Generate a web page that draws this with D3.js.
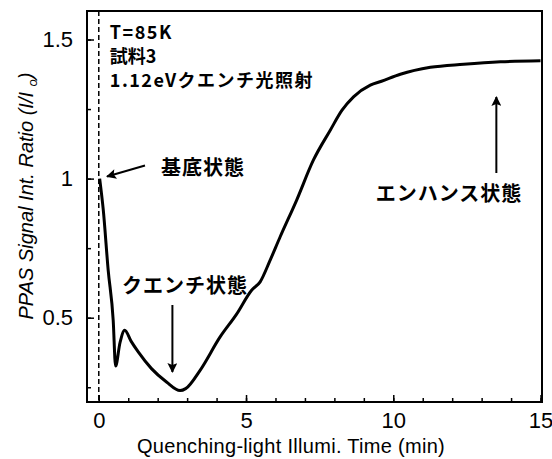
<!DOCTYPE html>
<html>
<head>
<meta charset="utf-8">
<script src="https://cdn.jsdelivr.net/npm/d3@7"></script>
<style>
  body { margin: 0; background: #fff; }
  svg text { fill: #000; }
</style>
</head>
<body>
<div class="chart"></div>
<script>
// data
var timeMin = [0.03, 0.15, 0.32, 0.49, 0.57, 0.72, 0.88, 1.1, 1.34, 1.79, 2.3, 2.76, 2.95,
  3.44, 4.12, 4.68, 5.19, 5.48, 5.82, 6.16, 6.72, 7.29, 7.86, 8.26, 8.65, 9.22, 9.6,
  10.24, 11.26, 12.39, 13.64, 15.0];
var ratio = [1.0, 0.89, 0.67, 0.49, 0.326, 0.41, 0.455, 0.415, 0.377, 0.317, 0.269, 0.238, 0.245,
  0.311, 0.431, 0.513, 0.599, 0.629, 0.707, 0.791, 0.923, 1.067, 1.174, 1.246, 1.294, 1.336, 1.35,
  1.375, 1.40, 1.411, 1.42, 1.424];
var xTicks = [0, 5, 10, 15];
var yTicks = [0.5, 1, 1.5];
var infoLines = ["T=85K", "試料3", "1.12eVクエンチ光照射"];

var svgWidth = 552;
var svgHeight = 459;
var margin = {top: 11, right: 10, bottom: 57, left: 87};
var width = svgWidth - margin.left - margin.right;
var height = svgHeight - margin.top - margin.bottom;

var svg = d3.select(".chart")
  .append("svg")
  .attr("width", svgWidth)
  .attr("height", svgHeight);

var chartGroup = svg.append("g")
  .attr("transform", `translate(${margin.left}, ${margin.top})`);

var x = d3.scaleLinear().domain([-0.4, 15.05]).range([0, width]);
var y = d3.scaleLinear().domain([0.197, 1.6025]).range([height, 0]);

var tickFont = "'Liberation Sans', Arial, sans-serif";
var jpFont = "'Noto Sans CJK JP', sans-serif";

// frame
chartGroup.append("rect")
  .attr("width", width).attr("height", height)
  .attr("fill", "none").attr("stroke", "#000").attr("stroke-width", 2);

// minor ticks
chartGroup.append("g")
  .attr("transform", `translate(0,${height})`)
  .call(d3.axisBottom(x).tickValues(d3.range(0, 16, 1)).tickSize(-4).tickFormat(""))
  .call(g => g.select(".domain").remove());
chartGroup.append("g")
  .call(d3.axisLeft(y).tickValues([0.25, 0.5, 0.75, 1, 1.25, 1.5]).tickSize(-4).tickFormat(""))
  .call(g => g.select(".domain").remove());

// major ticks with labels
var bottomAxis = chartGroup.append("g")
  .attr("transform", `translate(0,${height})`)
  .call(d3.axisBottom(x).tickValues(xTicks).tickSize(-7).tickPadding(10).tickFormat(d3.format("d")));
bottomAxis.select(".domain").remove();
bottomAxis.selectAll("text").attr("font-size", 22).attr("font-family", tickFont);

var leftAxis = chartGroup.append("g")
  .call(d3.axisLeft(y).tickValues(yTicks).tickSize(-7).tickPadding(14).tickFormat(d => d === 1 ? "1" : d3.format(".1f")(d)));
leftAxis.select(".domain").remove();
leftAxis.selectAll("text").attr("font-size", 22).attr("font-family", tickFont);
svg.selectAll(".tick line").attr("stroke-width", 1.5);

// dashed line at t = 0
chartGroup.append("line")
  .attr("x1", x(0)).attr("x2", x(0))
  .attr("y1", 0).attr("y2", height)
  .attr("stroke", "#000").attr("stroke-width", 1.5)
  .attr("stroke-dasharray", "5,3");

// curve
var line = d3.line()
  .x((d, i) => x(timeMin[i]))
  .y(d => y(d))
  .curve(d3.curveMonotoneX);

chartGroup.append("path")
  .datum(ratio)
  .attr("d", line)
  .attr("fill", "none")
  .attr("stroke", "#000")
  .attr("stroke-width", 3)
  .attr("stroke-linejoin", "round");

// info text
chartGroup.selectAll(".info")
  .data(infoLines)
  .enter()
  .append("text")
  .attr("class", "info")
  .attr("x", x(0) + 11)
  .attr("y", (d, i) => 28 + i * 24)
  .attr("font-family", jpFont)
  .attr("font-weight", "bold")
  .attr("font-size", 18)
  .attr("letter-spacing", (d, i) => i === 1 ? 0 : 1.5)
  .text(d => d);

// arrows
svg.append("defs").append("marker")
  .attr("id", "head")
  .attr("viewBox", "0 0 10 10")
  .attr("refX", 9).attr("refY", 5)
  .attr("markerWidth", 12).attr("markerHeight", 10)
  .attr("markerUnits", "userSpaceOnUse")
  .attr("orient", "auto")
  .append("path")
  .attr("d", "M0,0 L10,5 L0,10 L2,5 Z")
  .attr("fill", "#000");

function arrow(x1, y1, x2, y2) {
  chartGroup.append("line")
    .attr("x1", x1).attr("y1", y1).attr("x2", x2).attr("y2", y2)
    .attr("stroke", "#000").attr("stroke-width", 2)
    .attr("marker-end", "url(#head)");
}
function label(txt, cx, cy) {
  chartGroup.append("text")
    .attr("x", cx).attr("y", cy)
    .attr("text-anchor", "middle")
    .attr("dominant-baseline", "central")
    .attr("font-family", jpFont)
    .attr("font-weight", "bold")
    .attr("font-size", 20)
    .attr("letter-spacing", 1)
    .text(txt);
}

arrow(145 - margin.left, 165.5 - margin.top, 107 - margin.left, 176.5 - margin.top);
label("基底状態", 203 - margin.left, 166 - margin.top);

arrow(x(2.5), 305 - margin.top, x(2.5), 372 - margin.top);
label("クエンチ状態", 185 - margin.left, 284 - margin.top);

arrow(x(13.5), 173 - margin.top, x(13.5), 97 - margin.top);
label("エンハンス状態", 449 - margin.left, 192 - margin.top);

// axis titles
svg.append("text")
  .attr("transform", "translate(291, 446)")
  .attr("text-anchor", "middle")
  .attr("dominant-baseline", "central")
  .attr("font-family", tickFont)
  .attr("font-size", 20)
  .attr("letter-spacing", 0.3)
  .text("Quenching-light Illumi. Time (min)");

var yTitle = svg.append("text")
  .attr("transform", "translate(26, 196) rotate(-90)")
  .attr("text-anchor", "middle")
  .attr("dominant-baseline", "central")
  .attr("font-family", tickFont)
  .attr("font-style", "italic")
  .attr("font-size", 20);
yTitle.append("tspan").text("PPAS Signal Int. Ratio  (I/I ");
yTitle.append("tspan").attr("font-size", 13).attr("dy", 6).text("o");
yTitle.append("tspan").attr("dy", -6).text(")");
</script>
</body>
</html>
